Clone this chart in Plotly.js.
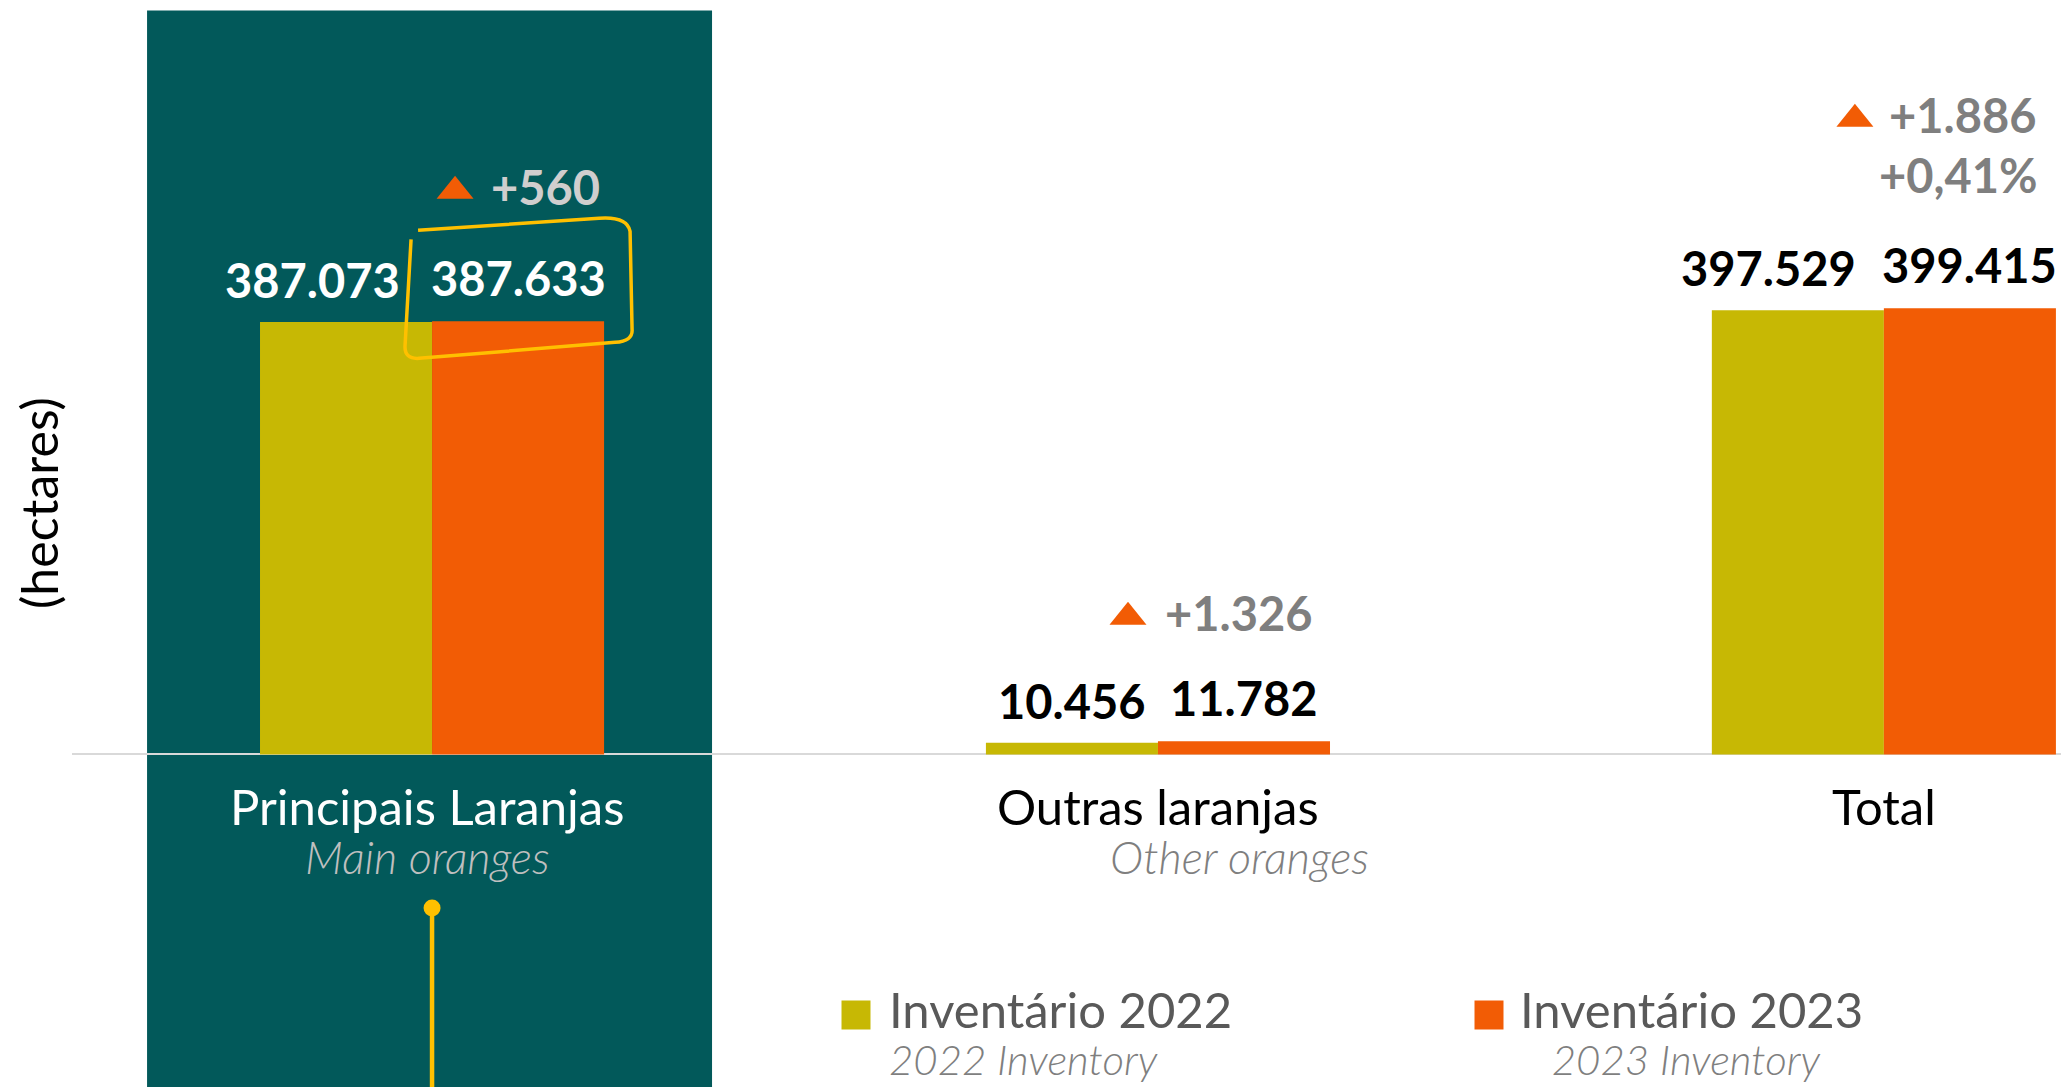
<!DOCTYPE html>
<html><head><meta charset="utf-8">
<script src="https://cdn.plot.ly/plotly-3.0.1.min.js"></script>
<style>html,body{margin:0;padding:0;background:#fff;overflow:hidden}</style>
</head><body><div id="chart" style="width:2061px;height:1087px"></div>
<script>
// ---- data ----
const categories = ['Principais Laranjas', 'Outras laranjas', 'Total'];
const categoriesEn = ['Main oranges', 'Other oranges', ''];
const inventory2022 = [387073, 10456, 397529];
const inventory2023 = [387633, 11782, 399415];
const changeLabels = ['+560', '+1.326', '+1.886'];
const totalPctChange = '+0,41%';
const seriesNames = ['Inventário 2022', 'Inventário 2023'];
const seriesNamesEn = ['2022 Inventory', '2023 Inventory'];
const yAxisTitle = '(hectares)';

// ---- style ----
const W = 2061, H = 1087;
const YEL = '#C7B804', ORG = '#F25C05', PANEL = '#02595A', GOLD = '#FFC000';
const FONT = 'Lato, "Noto Sans", sans-serif';
const BARGAP = 0.526;
const HALF = (1 - BARGAP) / 4;
const px = p => p / W;
const py = p => 1 - p / H;
const fmt = v => String(v).replace(/\B(?=(\d{3})+(?!\d))/g, '.');

const traces = [
  {type: 'bar', x: categories, y: inventory2022, name: seriesNames[0],
   marker: {color: YEL}, hoverinfo: 'skip', showlegend: false},
  {type: 'bar', x: categories, y: inventory2023, name: seriesNames[1],
   marker: {color: ORG}, hoverinfo: 'skip', showlegend: false}
];

const shapes = [];
const annotations = [];

// dark panel behind first category
shapes.push({type: 'rect', layer: 'below', xref: 'x', yref: 'paper',
  x0: -0.3926, x1: 0.3857, y0: 0, y1: py(10.5), fillcolor: PANEL, line: {width: 0}});

// pointer line + dot
shapes.push({type: 'line', xref: 'x', yref: 'paper', x0: 0, x1: 0, y0: 0, y1: py(908),
  line: {color: GOLD, width: 4.5}});
shapes.push({type: 'circle', xref: 'x', yref: 'paper', xsizemode: 'pixel', ysizemode: 'pixel',
  xanchor: 0, yanchor: py(908), x0: -8.5, x1: 8.5, y0: -8.5, y1: 8.5,
  fillcolor: GOLD, line: {width: 0}});

// hand-drawn highlight box around 2023 main value
shapes.push({type: 'path', xref: 'x', yref: 'y', xsizemode: 'pixel', ysizemode: 'pixel',
  xanchor: 0 + HALF, yanchor: inventory2023[0],
  path: 'M-100,91 L81,103 Q109,105 112,90 L114,-8 Q115,-20 97,-21 L-99,-37 Q-114,-38 -113,-24 L-107,82',
  line: {color: GOLD, width: 3.5}});

// value labels
const lab22Shift = [-34, 0, -29];
const labColor = ['#FFFFFF', '#000000', '#000000'];
categories.forEach((c, i) => {
  annotations.push({xref: 'x', yref: 'y', x: i - HALF, y: inventory2022[i], text: fmt(inventory2022[i]),
    showarrow: false, xanchor: 'center', yanchor: 'middle', xshift: lab22Shift[i], yshift: 42,
    font: {family: FONT, size: 47, color: labColor[i], weight: 700}});
  annotations.push({xref: 'x', yref: 'y', x: i + HALF, y: inventory2023[i], text: fmt(inventory2023[i]),
    showarrow: false, xanchor: 'center', yanchor: 'middle', xshift: 0, yshift: 43,
    font: {family: FONT, size: 47, color: labColor[i], weight: 700}});
});

// change labels + triangles
const chgTextX = [-29, -81, -83];
const chgTriX = [-63, -116, -115];
const chgY = [134, 128, 193];
const chgColor = ['#D0CECE', '#7F7F7F', '#7F7F7F'];
categories.forEach((c, i) => {
  annotations.push({xref: 'x', yref: 'y', x: i + HALF, y: inventory2023[i], text: changeLabels[i],
    showarrow: false, xanchor: 'left', yanchor: 'middle', xshift: chgTextX[i], yshift: chgY[i],
    font: {family: FONT, size: 47, color: chgColor[i], weight: 700}});
  const dx = chgTriX[i], dy = chgY[i];
  shapes.push({type: 'path', xref: 'x', yref: 'y', xsizemode: 'pixel', ysizemode: 'pixel',
    xanchor: i + HALF, yanchor: inventory2023[i],
    path: `M${dx - 18.5},${dy - 11.5} L${dx + 18.5},${dy - 11.5} L${dx},${dy + 11.5} Z`,
    fillcolor: ORG, line: {width: 0}});
});
annotations.push({xref: 'x', yref: 'y', x: 2 + HALF, y: inventory2023[2], text: totalPctChange,
  showarrow: false, xanchor: 'left', yanchor: 'middle', xshift: -93, yshift: 133,
  font: {family: FONT, size: 47, color: '#7F7F7F', weight: 700}});

// category labels
const catColor = ['#FFFFFF', '#000000', '#000000'];
const enColor = ['#BFBFBF', '#7F7F7F', '#7F7F7F'];
const catShift = [-5, 0, 0];
const enShift = [-5, 82, 0];
categories.forEach((c, i) => {
  annotations.push({xref: 'x', yref: 'y', x: i, y: 0, text: c, showarrow: false,
    xanchor: 'center', yanchor: 'middle', xshift: catShift[i], yshift: -52,
    font: {family: FONT, size: 49, color: catColor[i]}});
  if (categoriesEn[i]) annotations.push({xref: 'x', yref: 'y', x: i, y: 0,
    text: '<i>' + categoriesEn[i] + '</i>', showarrow: false,
    xanchor: 'center', yanchor: 'middle', xshift: enShift[i], yshift: -103,
    font: {family: FONT, size: 45, color: enColor[i], weight: 300}});
});

// y axis title
annotations.push({xref: 'paper', yref: 'paper', x: px(39), y: py(503), text: yAxisTitle,
  showarrow: false, textangle: -90, xanchor: 'center', yanchor: 'middle',
  font: {family: FONT, size: 50, color: '#000000'}});

// custom legend (square + two-line label)
const legSq = [856, 1489];
const legText = [887, 1518];
const legIndent = ['', '\u00a0\u00a0\u00a0'];
const legCol = [YEL, ORG];
seriesNames.forEach((n, k) => {
  shapes.push({type: 'rect', xref: 'paper', yref: 'paper',
    x0: px(legSq[k] - 14.5), x1: px(legSq[k] + 14.5), y0: py(1015 + 14.5), y1: py(1015 - 14.5),
    fillcolor: legCol[k], line: {width: 0}});
  annotations.push({xref: 'paper', yref: 'paper', x: px(legText[k]), y: py(1086),
    text: '<span style="font-size:49px;color:#595959">' + n + '</span><br>' +
          '<span style="font-size:42px;color:#7F7F7F;font-weight:300"><i>' + legIndent[k] + seriesNamesEn[k] + '</i></span>',
    showarrow: false, xanchor: 'left', yanchor: 'bottom', align: 'left',
    font: {family: FONT, size: 36, color: '#595959'}});
});

const layout = {
  width: W, height: H,
  margin: {l: 0, r: 0, t: 0, b: 0, pad: 0},
  paper_bgcolor: '#FFFFFF', plot_bgcolor: 'rgba(0,0,0,0)',
  barmode: 'group', bargap: BARGAP, bargroupgap: 0,
  showlegend: false,
  font: {family: FONT},
  xaxis: {type: 'category', domain: [72 / W, 1], range: [-0.496, 2.244],
    showticklabels: false, showgrid: false, zeroline: false, showline: false, ticks: '', fixedrange: true},
  yaxis: {range: [-297600, 675200], showticklabels: false, showgrid: false,
    zeroline: true, zerolinecolor: '#D9D9D9', zerolinewidth: 2, showline: false, ticks: '', fixedrange: true},
  shapes: shapes,
  annotations: annotations
};

Plotly.newPlot('chart', traces, layout, {displayModeBar: false, staticPlot: true});
</script>
</body></html>
